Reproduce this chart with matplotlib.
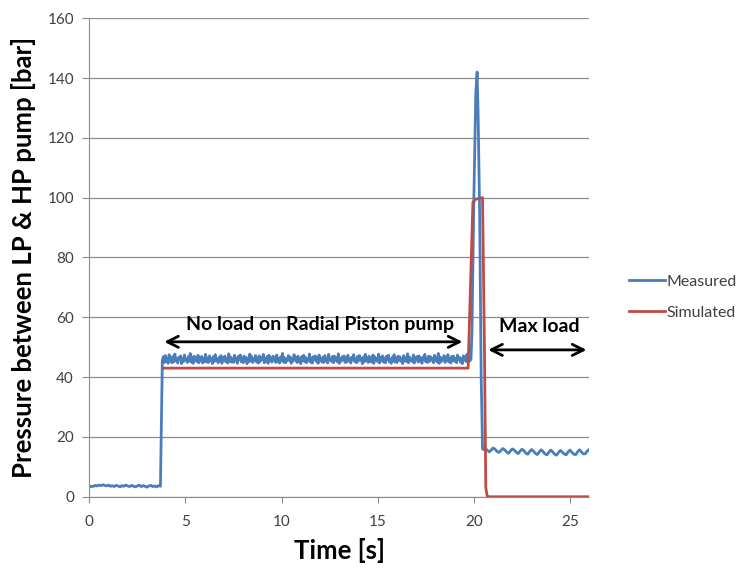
import numpy as np
import matplotlib.pyplot as plt

# =========================
# DATA
# =========================
# measured pressure, idle part, every 0.1 s
p_idle = [3.2, 3.5, 3.4, 3.8, 3.6, 3.9, 3.7, 4.0, 3.8, 3.6,
          3.9, 3.5, 3.7, 3.4, 3.8, 3.6, 3.3, 3.7, 3.5, 3.9,
          3.6, 3.4, 3.8, 3.5, 3.3, 3.6, 3.9, 3.4, 3.7, 3.5,
          3.2, 3.6, 3.8, 3.4, 3.6, 3.3, 3.7, 3.5]
t_idle_start = 0.0
dt_idle = 0.1

# measured pressure, no load part, every 0.05 s
p_noload = [
    45.6, 46.8, 44.9, 47.2, 45.3, 46.1, 44.6, 47.5, 45.8, 46.4, 44.8, 46.9, 45.1, 47.7, 45.5, 46.2, 44.7, 46.6, 45.9, 47.1,
    44.5, 46.3, 45.2, 47.4, 45.7, 46.0, 44.9, 46.8, 45.4, 47.9, 45.0, 46.5, 44.6, 47.0, 45.8, 46.2, 45.1, 47.3, 44.8, 46.7,
    45.5, 46.9, 44.7, 46.1, 45.3, 47.6, 45.0, 46.4, 44.9, 47.1, 45.6, 46.3, 44.5, 46.8, 45.2, 47.5, 45.7, 46.0, 44.8, 46.6,
    45.4, 47.2, 44.6, 46.5, 45.9, 47.0, 45.1, 46.2, 44.7, 47.8, 45.3, 46.7, 45.0, 46.1, 44.9, 47.3, 45.5, 46.4, 44.6, 46.9,
    45.8, 47.4, 45.2, 46.3, 44.8, 47.0, 45.6, 46.6, 44.5, 46.2, 45.1, 47.7, 45.4, 46.8, 44.9, 46.0, 45.7, 47.2, 45.0, 46.5,
    44.7, 47.1, 45.3, 46.4, 45.9, 47.6, 44.8, 46.1, 45.2, 46.9, 44.6, 47.3, 45.5, 46.2, 45.0, 47.0, 45.8, 46.6, 44.9, 47.4,
    45.1, 46.3, 44.7, 46.8, 45.6, 47.9, 45.0, 46.5, 44.8, 46.0, 45.4, 47.2, 45.7, 46.7, 44.6, 46.1, 45.3, 47.5, 45.9, 46.4,
    44.9, 47.0, 45.2, 46.2, 44.5, 46.9, 45.6, 47.3, 45.1, 46.6, 44.8, 46.0, 45.5, 47.7, 45.0, 46.4, 44.7, 46.8, 45.8, 47.1,
    45.3, 46.5, 44.6, 47.4, 45.9, 46.1, 45.0, 46.7, 44.9, 47.2, 45.4, 46.3, 44.7, 47.6, 45.7, 46.0, 45.2, 46.9, 44.8, 47.0,
    45.6, 46.4, 45.1, 47.8, 44.6, 46.2, 45.3, 46.8, 45.9, 47.1, 44.9, 46.5, 45.0, 47.3, 45.5, 46.1, 44.7, 46.6, 45.8, 47.5,
    45.2, 46.0, 44.8, 46.9, 45.4, 47.2, 45.7, 46.3, 44.5, 46.7, 45.1, 47.6, 45.6, 46.4, 44.9, 47.0, 45.3, 46.2, 45.0, 47.4,
    44.6, 46.8, 45.8, 46.1, 45.2, 47.7, 44.7, 46.5, 45.5, 47.1, 45.0, 46.3, 44.8, 46.9, 45.9, 47.3, 45.1, 46.0, 44.6, 46.6,
    45.4, 47.5, 45.0, 46.2, 44.9, 47.0, 45.7, 46.8, 45.3, 46.1, 44.5, 47.2, 45.6, 46.4, 45.1, 47.8, 44.8, 46.7, 45.5, 46.0,
    45.2, 47.4, 44.7, 46.5, 45.8, 46.9, 45.0, 47.1, 45.4, 46.3, 44.6, 46.6, 45.9, 47.6, 45.1, 46.2, 44.9, 47.0, 45.3, 46.8,
    45.7, 46.1, 44.8, 47.3, 45.5, 46.4, 45.0, 47.9, 44.6, 46.7, 45.2, 46.0, 45.8, 47.2, 44.9, 46.5, 45.4, 47.5, 45.1, 46.3,
    44.7, 46.9, 45.6, 47.0, 45.3, 46.2, 44.8, 47.4, 45.9, 46.6, 45.0, 46.1, 44.5, 47.1, 45.7, 46.8, 45.2, 47.7, 44.9, 46.4,
    45.5]
t_noload_start = 3.8
dt_noload = 0.05

# pressure peak when the load is switched
t_spike = [19.85, 19.9, 20.0, 20.1, 20.17, 20.22, 20.3, 20.38, 20.45]
p_spike = [46, 55, 100, 135, 142, 128, 95, 40, 16]

# measured pressure, max load part, every 0.1 s
p_maxload = [15.8, 16.2, 15.5, 15.0, 15.6, 16.3, 15.9, 15.2, 14.8, 15.4,
             16.1, 15.7, 15.0, 14.5, 15.3, 16.0, 15.6, 14.9, 14.4, 15.2,
             15.9, 15.4, 14.6, 14.2, 15.1, 15.8, 15.2, 14.5, 14.1, 15.0,
             15.7, 15.1, 14.3, 14.0, 14.9, 15.6, 15.0, 14.2, 13.9, 14.8,
             15.5, 14.9, 14.3, 14.0, 15.0, 15.6, 14.8, 14.2, 14.1, 15.1,
             15.7, 14.9, 14.3, 14.4, 15.3, 15.8]
t_maxload_start = 20.5
dt_maxload = 0.1

# simulated pressure
t_sim = [3.9, 19.7, 19.95, 20.1, 20.45, 20.55, 20.62, 20.7, 26.0]
p_sim = [43, 43, 98.5, 99.5, 100, 50, 3, 0, 0]

x_ticks = [0, 5, 10, 15, 20, 25]
y_ticks = [0, 20, 40, 60, 80, 100, 120, 140, 160]

# =========================
# BUILD MEASURED SERIES
# =========================
t_meas = np.concatenate([
    t_idle_start + dt_idle * np.arange(len(p_idle)),
    t_noload_start + dt_noload * np.arange(len(p_noload)),
    t_spike,
    t_maxload_start + dt_maxload * np.arange(len(p_maxload)),
])
p_meas = np.concatenate([p_idle, p_noload, p_spike, p_maxload])

# =========================
# PLOT
# =========================
plt.rcParams['font.family'] = ['Lato', 'DejaVu Sans']

fig = plt.figure(figsize=(7.44, 5.69), dpi=100)
ax = fig.add_axes([0.12, 0.127, 0.672, 0.841])

ax.plot(t_meas, p_meas, color='#4a7ebb', lw=2.0, label='Measured')
ax.plot(t_sim, p_sim, color='#be4b48', lw=2.0, label='Simulated')

ax.set_xlim(0, 26)
ax.set_ylim(0, 160)
ax.set_xticks(x_ticks)
ax.set_yticks(y_ticks)

ax.grid(axis='y', color='#8c8c8c', lw=0.9)
ax.set_axisbelow(True)
for s in ['top', 'right']:
    ax.spines[s].set_visible(False)
for s in ['left', 'bottom']:
    ax.spines[s].set_color('#8c8c8c')
ax.tick_params(colors='#8c8c8c', labelcolor='#404040', labelsize=11)
ax.tick_params(axis='x', length=4.5, pad=9)
ax.tick_params(axis='y', length=5, pad=6)

ax.set_xlabel('Time [s]', fontsize=18.5, fontweight='bold', labelpad=6)
ax.set_ylabel('Pressure between LP & HP pump [bar]', fontsize=18.5, fontweight='bold', labelpad=8)

# annotations
ax.annotate('', xy=(3.75, 51.8), xytext=(19.55, 51.8),
            arrowprops=dict(arrowstyle='<->', color='black', lw=2, mutation_scale=20),
            annotation_clip=False)
ax.text(12.0, 57.5, 'No load on Radial Piston pump', ha='center', va='center',
        fontsize=14, fontweight='bold')
ax.annotate('', xy=(20.6, 49.1), xytext=(26.0, 49.1),
            arrowprops=dict(arrowstyle='<->', color='black', lw=2, mutation_scale=20),
            annotation_clip=False)
ax.text(23.4, 57, 'Max load', ha='center', va='center', fontsize=14, fontweight='bold')

fig.legend(loc='center left', bbox_to_anchor=(0.845, 0.478), frameon=False,
           fontsize=11.5, handlelength=2.3, labelspacing=1.05, handletextpad=0.05,
           borderpad=0, borderaxespad=0, labelcolor='#404040')

fig.savefig('out.png', dpi=100)
